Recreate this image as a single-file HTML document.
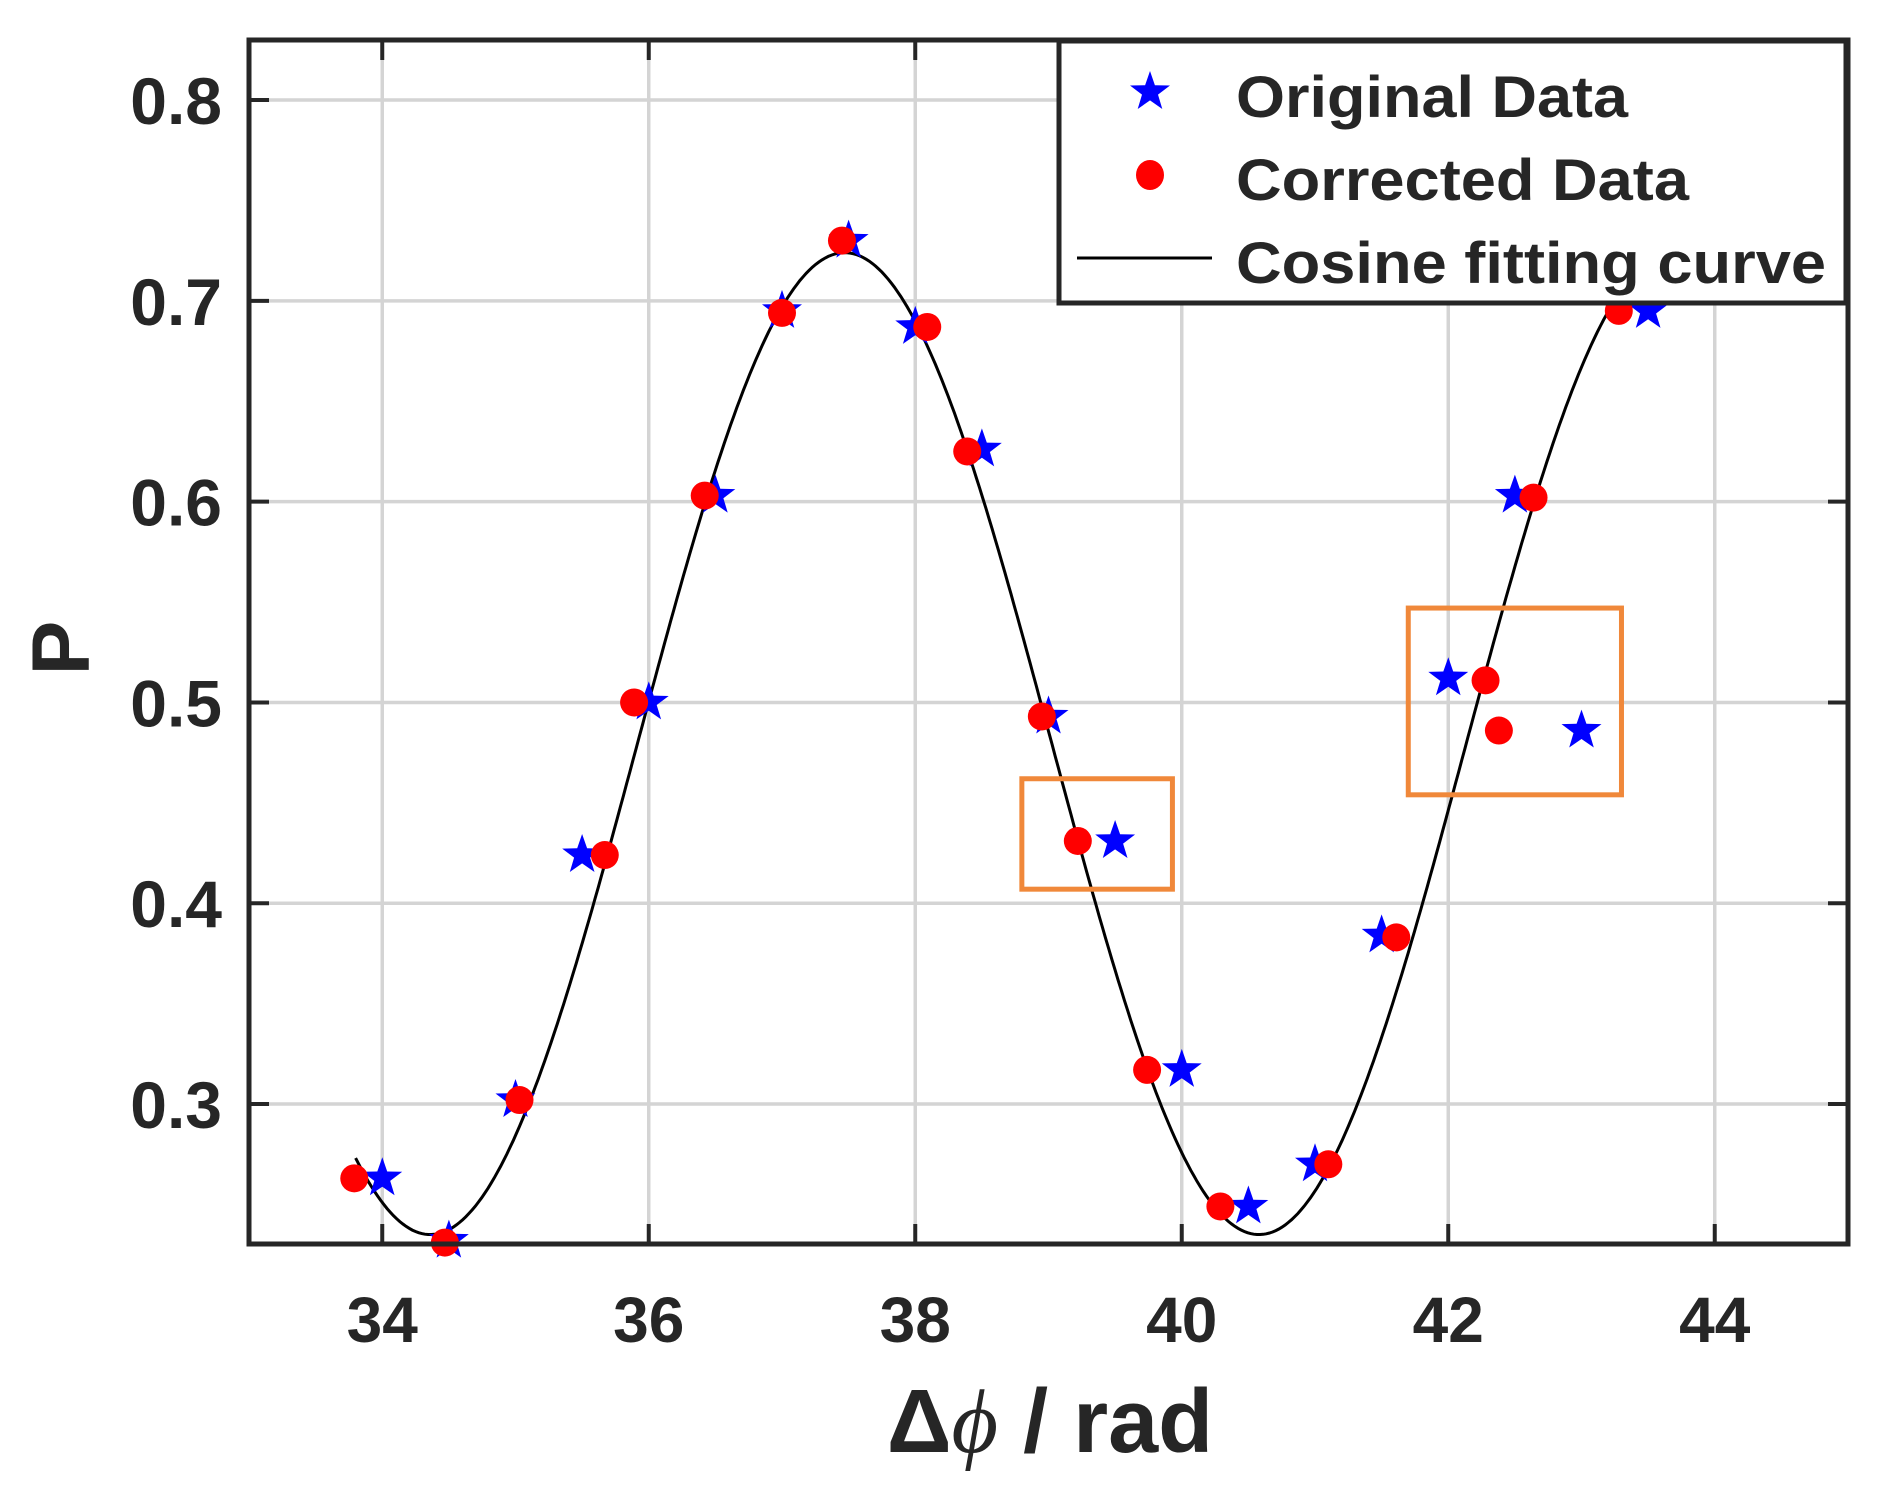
<!DOCTYPE html>
<html><head><meta charset="utf-8"><style>
html,body{margin:0;padding:0;background:#fff}
svg{display:block}
text{font-family:"Liberation Sans",Arial,sans-serif;font-weight:bold;fill:#262626}
</style></head><body>
<svg id="chart" width="1878" height="1493" viewBox="0 0 1878 1493" xmlns="http://www.w3.org/2000/svg">
<g id="grid"></g>
<g id="curve"></g>
<g id="marks"></g>
<g id="axes"></g>
<g id="legend"></g>
</svg>
<script>
const xTicks = [34, 36, 38, 40, 42, 44];
const yTicks = [0.3, 0.4, 0.5, 0.6, 0.7, 0.8];
const yTickLabels = ["0.3", "0.4", "0.5", "0.6", "0.7", "0.8"];
const origX = [34, 34.5, 35, 35.5, 36, 36.5, 37, 37.5, 38, 38.5, 39, 39.5, 40, 40.5, 41, 41.5, 42, 42.5, 43, 43.5];
const origY = [0.263, 0.232, 0.302, 0.424, 0.5, 0.603, 0.695, 0.73, 0.687, 0.626, 0.493, 0.431, 0.317, 0.249, 0.270, 0.384, 0.512, 0.603, 0.486, 0.695];
const corrX = [33.79, 34.47, 35.03, 35.67, 35.89, 36.42, 37.0, 37.45, 38.09, 38.39, 38.95, 39.22, 39.74, 40.29, 41.1, 41.61, 42.28, 42.38, 42.64, 43.28];
const corrY = [0.263, 0.231, 0.302, 0.424, 0.5, 0.603, 0.694, 0.730, 0.687, 0.625, 0.493, 0.431, 0.317, 0.249, 0.270, 0.383, 0.511, 0.486, 0.602, 0.695];
const fitOffset = [0.4795];
const fitAmp = [0.2445];
const fitPeriod = [6.22];
const fitPeak = [37.47];
const fitRange = [33.8, 43.26];
const boxesX = [[38.8, 39.93], [41.7, 43.3]];
const boxesY = [[0.407, 0.462], [0.454, 0.547]];

const NS = "http://www.w3.org/2000/svg";
const L = 249, R = 1848, T = 40, B = 1244;
const X0 = 33.0, X1 = 45.0, Y0 = 0.2303, Y1 = 0.8299;
function sx(v){ return L + (v - X0) / (X1 - X0) * (R - L); }
function sy(v){ return B - (v - Y0) / (Y1 - Y0) * (B - T); }
function mk(tag, attrs, parent){ const e = document.createElementNS(NS, tag); for (const k in attrs) e.setAttribute(k, attrs[k]); parent.appendChild(e); return e; }
function starPath(cx, cy, r){ let d = ""; for (let i = 0; i < 10; i++){ const rr = i % 2 ? r * 0.4 : r; const a = -Math.PI/2 + i * Math.PI/5; d += (i ? "L" : "M") + (cx + rr*Math.cos(a)).toFixed(1) + "," + (cy + rr*Math.sin(a)).toFixed(1); } return d + "Z"; }

const grid = document.getElementById("grid");
xTicks.forEach(t => {
  const l = mk("line", {x1: sx(t), x2: sx(t), y1: T, y2: B, stroke: "#d4d4d4", "stroke-width": 3.5}, grid);
  
  
});
yTicks.forEach(t => {
  const l = mk("line", {x1: L, x2: R, y1: sy(t), y2: sy(t), stroke: "#d4d4d4", "stroke-width": 3.5}, grid);
  
  
});

const curve = document.getElementById("curve");
let d = "";
for (let i = 0; i <= 400; i++){
  const x = fitRange[0] + (fitRange[1] - fitRange[0]) * i / 400;
  const y = fitOffset[0] + fitAmp[0] * Math.cos(2*Math.PI*(x - fitPeak[0]) / fitPeriod[0]);
  d += (i ? "L" : "M") + sx(x).toFixed(1) + "," + sy(y).toFixed(1);
}
const cp = mk("path", {d: d, fill: "none", stroke: "#000", "stroke-width": 3}, curve);



const marks = document.getElementById("marks");
origX.forEach((x, i) => {
  const s = mk("path", {d: starPath(sx(x), sy(origY[i]), 21), fill: "#0000ff"}, marks);
  
  
});
corrX.forEach((x, i) => {
  const c = mk("ellipse", {cx: sx(x), cy: sy(corrY[i]), rx: 14, ry: 14, fill: "#ff0000"}, marks);
  
  
});
boxesX.forEach((bx, i) => {
  const r = mk("rect", {x: sx(bx[0]), y: sy(boxesY[i][1]), width: sx(bx[1]) - sx(bx[0]), height: sy(boxesY[i][0]) - sy(boxesY[i][1]), fill: "none", stroke: "#f0883a", "stroke-width": 5}, marks);
  
  
});

const axes = document.getElementById("axes");
xTicks.forEach(t => {
  mk("line", {x1: sx(t), x2: sx(t), y1: B, y2: B - 20, stroke: "#262626", "stroke-width": 4}, axes);
  mk("line", {x1: sx(t), x2: sx(t), y1: T, y2: T + 20, stroke: "#262626", "stroke-width": 4}, axes);
  const tx = mk("text", {x: sx(t), y: 1342, "font-size": 64, "text-anchor": "middle"}, axes);
  tx.textContent = String(t);
  
  
});
yTicks.forEach((t, i) => {
  mk("line", {x1: L, x2: L + 20, y1: sy(t), y2: sy(t), stroke: "#262626", "stroke-width": 4}, axes);
  mk("line", {x1: R, x2: R - 20, y1: sy(t), y2: sy(t), stroke: "#262626", "stroke-width": 4}, axes);
  const ty = mk("text", {x: 222, y: sy(t) + 24, "font-size": 66, "text-anchor": "end"}, axes);
  ty.textContent = yTickLabels[i];
  
  
});
const frame = mk("rect", {x: L, y: T, width: R - L, height: B - T, fill: "none", stroke: "#262626", "stroke-width": 5}, axes);


const xt = mk("text", {x: 1050, y: 1452, "font-size": 90, "text-anchor": "middle", fill: "#333"}, axes);
xt.innerHTML = 'Δ<tspan font-style="italic" font-family="Liberation Serif, serif" font-weight="normal">ϕ</tspan> / rad';


const yt = mk("text", {x: 0, y: 0, "font-size": 82, "text-anchor": "middle", transform: "translate(89,648) rotate(-90)"}, axes);
yt.textContent = "P";



const lg = document.getElementById("legend");
const lb = mk("rect", {x: 1059, y: 41, width: 787, height: 262, fill: "#fff", stroke: "#262626", "stroke-width": 5}, lg);


const ls = mk("path", {d: starPath(1150, 92, 21), fill: "#0000ff"}, lg);


const lc = mk("ellipse", {cx: 1150, cy: 175, rx: 14, ry: 15, fill: "#ff0000"}, lg);


const ll = mk("line", {x1: 1077, x2: 1212, y1: 258, y2: 258, stroke: "#000", "stroke-width": 3}, lg);


const labels = [["Original Data", 117, 392, 'legend-entry-original'], ["Corrected Data", 200, 453, 'legend-entry-corrected'], ["Cosine fitting curve", 283, 590, 'legend-entry-fit']];
labels.forEach(a => {
  const t = mk("text", {x: 1236, y: a[1], "font-size": 58, textLength: a[2], lengthAdjust: "spacingAndGlyphs", fill: "#000"}, lg);
  t.textContent = a[0];
  
  
});
</script>
</body></html>
